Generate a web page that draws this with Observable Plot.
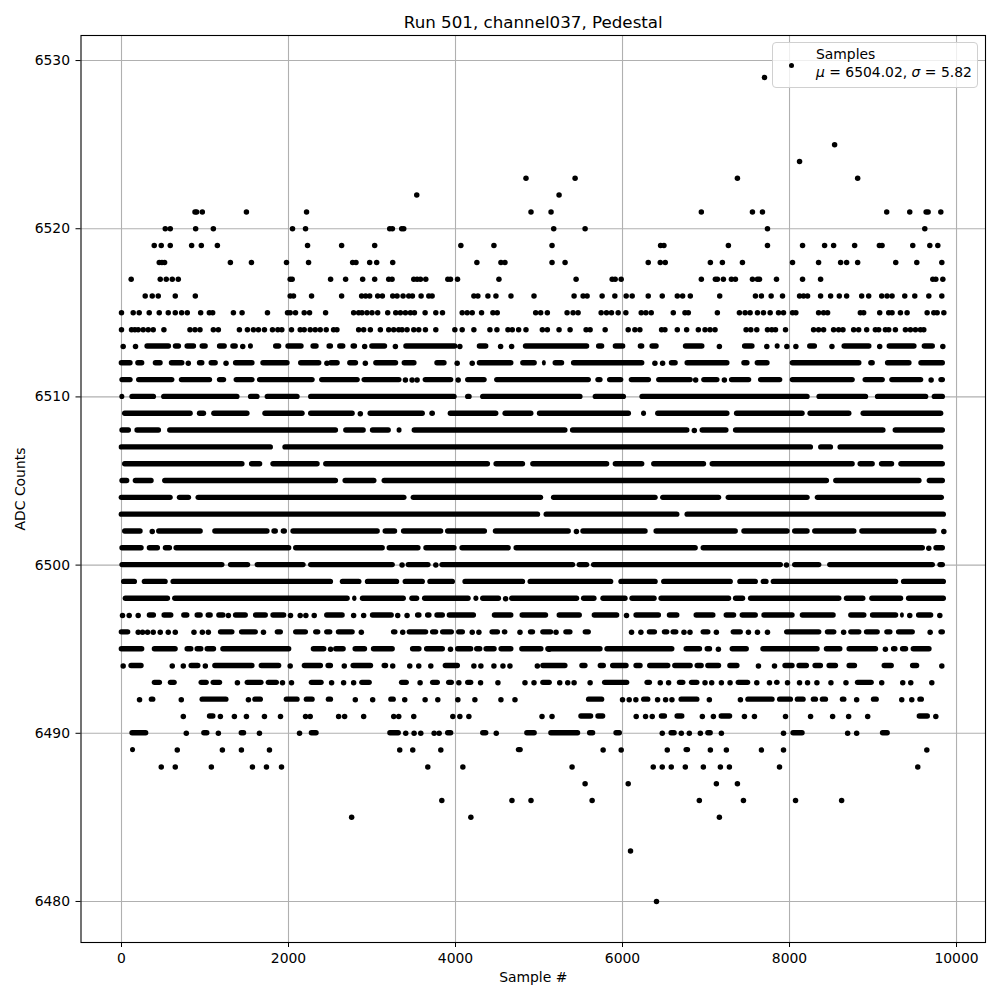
<!DOCTYPE html>
<html><head><meta charset="utf-8">
<script src="https://cdn.jsdelivr.net/npm/d3@7"></script>
<script src="https://cdn.jsdelivr.net/npm/@observablehq/plot@0.6"></script>
<style>
html,body{margin:0;padding:0;background:#fff}
#wrap{position:relative;width:1000px;height:1000px;font-family:"DejaVu Sans"}
#legend{position:absolute;left:772px;top:42px;width:204px;height:44px;background:rgba(255,255,255,.8);border:1px solid #d0d0d0;border-radius:4px;font-size:13.9px;color:#000;line-height:17px}
#legend .t{position:absolute;left:43px;white-space:nowrap}
#legend i{font-style:italic}
#legend .d{position:absolute;left:16px;top:20px;width:5px;height:5px;border-radius:50%;background:#000}
</style></head><body><div id="wrap"></div>
<script>
// Each list: a plain number is one sample read at that x; [a,b] is a stretch of the row
// where the dots merge into a solid bar, read from its left edge to its right edge.
const l6529=[7700];
const l6525=[8540];
const l6524=[8120];
const l6523=[4844,5432,7376,8816];
const l6522=[3536,5240];
const l6521=[880,900,968,1496,2216,4904,5144,6944,7556,7676,9164,9440,9636,9660,9812];
const l6520=[524,584,888,1100,2048,2204,3212,3244,3356,3380,5176,5552,7736,9620];
const l6519=[392,476,584,840,956,1148,2228,2636,3032,4064,4460,5156,6456,6496,7268,7736,8156,8420,8528,8780,9076,9108,9476,9680,9776];
const l6518=[452,484,516,1304,1556,1976,2240,2768,2808,2972,3056,3248,4256,4544,4592,5156,5312,6308,6452,6512,7052,7196,7436,8036,8348,8612,8684,8816,9272,9524,9824];
const l6517=[116,464,536,608,680,2020,2044,2504,2684,2888,3032,3200,3240,3500,3540,3580,3644,3908,3940,4024,4520,5444,5876,5912,5984,6944,7112,7136,7208,7304,7352,7556,7616,7640,7844,8156,8372,9716,9752,9836];
const l6516=[284,368,440,644,884,2020,2060,2276,2636,2876,2924,2972,3068,3124,3248,3300,3372,3440,3484,3588,3680,3720,4220,4268,4388,4484,4664,4940,5420,5528,5576,5756,5908,6044,6116,6308,6476,6656,6720,6812,7164,7592,7664,7780,7916,8120,8168,8216,8372,8492,8596,8684,8864,8948,9104,9168,9228,9380,9500,9668,9824];
const l6515=[0,140,212,332,452,560,644,720,788,948,1052,1092,1340,1444,1748,1988,2020,2084,2188,2252,2444,2780,2840,2880,2940,3000,3068,3188,3284,3340,3400,3460,3508,3636,3764,3844,4080,4140,4200,4312,4448,4500,4960,5020,5100,5336,5408,5468,5744,5808,5868,5948,6040,6224,6280,6344,6608,6748,6788,7136,7400,7468,7528,7616,7688,7768,7868,7928,8036,8076,8348,8408,8456,8848,8888,9080,9188,9228,9328,9408,9648,9728,9768,9848];
const l6514=[0,120,160,200,260,320,380,508,820,880,940,1100,1160,1412,1508,1580,1640,1712,1808,1872,1920,2036,2140,2188,2260,2320,2380,2452,2540,2580,2840,2900,2980,3100,3200,3260,3320,3360,3420,3500,3560,3640,3764,3992,4080,4220,4412,4496,4628,4680,4756,4844,5040,5100,5240,5372,5564,5612,5792,6068,6148,6208,6468,6508,6656,6768,6908,6988,7048,7108,7480,7536,7608,7736,7788,7832,7952,8288,8348,8408,8528,8588,8640,8768,8828,8924,9028,9068,9148,9188,9268,9388,9448,9508,9568,9608];
const l6513=[20,168,[280,600],[620,720],[760,900],[940,1040],[1148,1268],[1308,1400],1452,[1520,1580],[1820,1920],[1968,2188],[2268,2368],[2460,2540],[2588,2688],[2748,2828],2912,[2972,3188],3280,[3380,4028],4052,[4260,4400],4540,4672,[4812,5608],[5688,5788],[5888,6040],[6188,6268],[6328,6440],[6728,6988],7160,[7436,7588],7728,[7828,7888],7968,8076,[8216,8336],8508,[8628,8988],9080,[9168,9528],[9588,9748],9836];
const l6512=[[-28,140],[170,280],[380,500],[572,760],800,[908,1000],[1048,1160],1252,[1340,1600],[1668,2020],[2120,2400],2460,[2480,2620],[2708,2840],2920,[3020,3320],[3360,3540],[3752,3900],4020,4200,[4260,4700],[4780,4980],[5040,5088],[5168,5308],[5388,6268],6388,6480,[6560,6668],[6748,7288],[7428,7528],[7588,7768],[8008,8868],[8948,9028],[9148,9468],[9548,9868]];
const l6511=[[-20,140],[180,640],[692,1092],[1148,1260],[1348,1600],[1628,2320],[2372,2860],[2880,3360],3400,3480,3540,[3612,3980],4032,[4120,4380],[4468,5628],[5680,5768],[5820,6016],[6080,6348],[6408,6848],6876,[6948,7168],7220,[7280,7548],[7628,7920],[8008,8788],[8880,9148],[9200,9608],9696,[9788,9868]];
const l6510=[[-20,40],[100,420],[480,1420],[1520,1660],[1720,2140],[2240,4020],[4120,4200],[4300,5528],[5648,6048],[6208,8248],[8328,8948],[9028,9668],[9708,9868]];
const l6509=[[12,860],[908,1020],[1080,1540],[1692,2200],[2240,2800],2860,[2952,3640],[3692,3760],[3912,4520],[4568,4940],[4980,6108],[6228,6288],[6396,7288],[7340,8188],[8220,8748],[8856,9848]];
const l6508=[[-20,120],[160,480],[552,2600],[2660,2932],[2980,3232],[3300,3360],[3480,5348],[5376,6808],6860,[6928,7276],[7328,9156],[9240,9868]];
const l6507=[[-28,1820],[1932,8288],[8348,8528],[8580,9848]];
const l6506=[[12,1480],[1532,1692],[1788,2380],[2420,4420],[4460,4840],[4900,5848],[5888,6268],[6348,7008],[7048,8788],[8820,9028],[9076,9260],[9308,9868]];
const l6505=[[-20,100],[140,392],[492,2600],[2652,3060],[3120,8480],[8528,9588],[9648,9868]];
const l6504=[[-28,620],[668,840],[892,3420],[3468,5056],[5148,6428],[6456,7188],[7240,8248],[8308,9856]];
const l6503=[[-28,5020],[5060,6688],[6748,9880]];
const l6502=[[12,260],368,[420,980],[1092,1780],[1800,1880],[1912,1988],[2028,3100],[3132,3308],[3352,3860],[3880,4384],[4452,5388],5448,[5500,6308],[6376,7388],[7428,8008],[8036,8248],[8276,8808],[8840,9768],9848];
const l6501=[[-20,272],[308,468],[500,612],[628,2040],[2060,3160],[3180,3588],[3620,4020],[4052,4668],[4700,6908],[6940,9628],9668,[9728,9868]];
const l6500=[[-20,1240],[1280,1548],[1600,2212],[2240,3280],3360,[3408,3708],3764,[3812,5440],[5456,5608],[5628,7928],7964,[8036,8388],[8456,9748],[9776,9868]];
const l6499=[[0,192],[248,560],[592,2540],[2620,2880],[2920,3332],[3372,3640],[3668,4000],[4088,4840],[4868,5896],[5956,6428],[6468,7328],[7380,7628],[7660,7756],[7780,9308],[9340,9880]];
const l6498=[[20,588],[612,2740],[2768,2820],[2860,3412],[3452,3572],[3604,4188],[4220,4280],[4300,4552],4600,[4648,5488],[5508,5696],[5740,6068],[6088,6416],[6436,7308],[7328,7476],[7508,8628],[8656,8916],[8960,9368],[9400,9880]];
const l6497=[12,92,200,[308,420],[484,628],[720,820],[880,980],[1012,1100],[1140,1252],1280,[1340,1520],[1580,1760],[1788,1980],2024,2140,2208,2308,[2432,2680],2780,2900,[2980,3268],3308,3420,[3520,3600],[3640,3720],[3752,3880],[3900,4252],[4440,4700],[4772,5116],[5216,5520],[5636,5968],6048,[6136,6468],[6536,6688],[6856,7120],[7216,7368],[7408,7628],[7668,8068],[8128,8560],[8708,8928],[8968,9308],[9328,9376],9440,[9520,9728],9800];
const l6496=[[-28,112],200,252,312,380,464,560,644,868,968,1040,[1160,1360],[1412,1640],1700,[1840,1940],[2060,2240],[2300,2388],[2432,2532],[2572,2800],2872,[3232,3312],3368,[3420,3680],[3700,3800],[3820,3988],[4012,4120],4200,4280,[4412,4540],[4560,4628],4772,[4872,4960],[5020,5176],5204,[5296,5408],[5528,5628],6108,6220,[6296,6420],[6476,6568],[6580,6676],6736,6808,[6940,7060],7124,[7300,7448],7508,7616,7736,[7940,8388],[8428,8568],8648,[8708,8868],[8896,9088],[9140,9240],[9280,9508],9684,[9788,9868]];
const l6495=[[-28,280],[368,680],[760,868],[880,988],[1000,1140],[1188,2040],[2272,2460],2504,[2540,2692],[2772,2948],[2992,3280],[3460,3600],[3628,3880],3940,[4000,4220],[4228,4328],[4340,4500],[4520,4700],[4768,5060],5120,[5080,5768],[5788,6628],[6736,6960],[6988,7080],7148,[7288,7520],[7656,8368],[8416,8640],[8688,9068],9148,[9220,9300],[9328,9428],[9456,9708]];
const l6494=[20,[88,272],608,740,[808,952],1004,[1092,1600],[1648,1920],2020,[2164,2420],[2448,2540],2668,[2748,3020],[3120,3200],3248,3452,3560,3704,[3852,4060],4220,4304,4460,4568,4652,4980,[5020,5348],[5488,5588],[5708,5808],[5856,6080],[6136,6248],[6300,6580],[6600,6848],[6868,6980],[6996,7188],[7260,7408],7628,7820,[7920,8068],[8088,8240],[8280,8408],[8448,8588],[8688,8816],[9108,9256],[9448,9560],9824];
const l6493=[[368,492],[560,668],[928,1052],[1072,1212],1388,[1480,1708],[1732,1892],1928,2036,[2248,2428],2516,2660,2780,[2852,3004],[3328,3448],3576,[3700,3820],[3892,3988],4040,[4120,4220],4300,4508,4832,4940,[5020,5160],5248,5344,5420,5612,[5760,6088],[6268,6360],6452,6552,[6656,6760],[6800,6928],6988,7068,7184,7288,[7360,7536],7608,7760,[7820,7888],7976,8120,8216,8328,8496,8676,[8788,9016],9104,9356,9452,9704];
const l6492=[216,[332,412],716,[940,1288],1520,[1572,1700],[1948,2140],[2188,2320],[2452,2540],2800,3008,[3200,3292],3392,3636,3788,4028,4232,4544,4712,[5568,5788],6000,6080,6160,[6228,6340],6420,6516,6592,[6676,6928],7040,7412,[7476,7828],[7856,8048],[8068,8200],[8260,8348],[8368,8468],[8608,8688],8804,[8980,9076],9344,9464,[9536,9616]];
const l6491=[740,[1028,1132],1184,1352,1496,1712,1904,2204,2260,2600,2672,2900,3260,3320,3500,3968,4052,4160,5036,5156,[5476,5656],[5680,5800],6164,6276,6356,[6440,6540],[6628,6748],6956,7088,[7156,7320],7460,7580,7952,8252,8516,8708,8936,[9528,9688],9752];
const l6490=[[100,328],776,[960,1060],1160,[1408,1500],1652,2132,[2248,2368],[3188,3352],3404,3504,3584,3744,3804,[3880,3980],[4300,4400],4488,[4828,4980],[5116,5500],[5580,5680],[5896,6000],6476,[6556,6656],6704,6800,6932,[6996,7088],7184,7928,[8016,8188],8696,8804,[9088,9208]];
const l6489=[[108,168],668,1208,1436,1772,3332,3488,3824,[4728,4812],5768,5984,6536,[6736,6816],7052,7244,7664,7928,9644];
const l6488=[476,644,1076,1568,1736,1916,3668,4088,5396,6368,6476,6584,6752,6968,7172,7280,7880,9536];
const l6487=[5552,6068,7124,7376];
const l6486=[3836,4676,4904,5636,6920,7448,8072,8624];
const l6485=[2756,4184,7160];
const l6483=[6096];
const l6480=[6407];

const rows=[[6529,l6529],[6525,l6525],[6524,l6524],[6523,l6523],[6522,l6522],[6521,l6521],[6520,l6520],[6519,l6519],[6518,l6518],[6517,l6517],[6516,l6516],[6515,l6515],[6514,l6514],[6513,l6513],[6512,l6512],[6511,l6511],[6510,l6510],[6509,l6509],[6508,l6508],[6507,l6507],[6506,l6506],[6505,l6505],[6504,l6504],[6503,l6503],[6502,l6502],[6501,l6501],[6500,l6500],[6499,l6499],[6498,l6498],[6497,l6497],[6496,l6496],[6495,l6495],[6494,l6494],[6493,l6493],[6492,l6492],[6491,l6491],[6490,l6490],[6489,l6489],[6488,l6488],[6487,l6487],[6486,l6486],[6485,l6485],[6483,l6483],[6480,l6480]];
const xTicks=[0,2000,4000,6000,8000,10000];
const yTicks=[6480,6490,6500,6510,6520,6530];

const samples=rows.flatMap(([v,l])=>l.filter(e=>typeof e==="number").map(x=>({x,v})));
const stretches=rows.flatMap(([v,l])=>l.filter(Array.isArray).map(([a,b])=>({a,b,v})));
const ink="#000", grid="#b0b0b0";
const chart=Plot.plot({
  width:1000,height:1000,marginLeft:80.5,marginRight:15,marginTop:35,marginBottom:58,
  style:{fontFamily:"DejaVu Sans",fontSize:"13.9px",background:"#fff",color:"#000",overflow:"visible"},
  x:{domain:[-485,10347]},
  y:{domain:[6477.56,6531.49]},
  marks:[
    Plot.gridX(xTicks,{stroke:grid,strokeOpacity:1,strokeWidth:1.1}),
    Plot.gridY(yTicks,{stroke:grid,strokeOpacity:1,strokeWidth:1.1}),
    Plot.dot(samples,{x:"x",y:"v",r:2.75,fill:ink,stroke:null}),
    Plot.rect(stretches,{x1:"a",x2:"b",y1:d=>d.v-0.16,y2:d=>d.v+0.16,fill:ink,rx:2.7}),
    Plot.frame({stroke:ink,strokeWidth:1.1}),
    Plot.axisX({ticks:xTicks,tickFormat:d=>String(d),tickSize:5,tickPadding:6,label:"Sample #",labelAnchor:"center",labelArrow:"none",labelOffset:39,fontSize:13.9}),
    Plot.axisY({ticks:yTicks,tickFormat:d=>String(d),tickSize:5,tickPadding:6,label:"ADC Counts",labelAnchor:"center",labelArrow:"none",labelOffset:66,fontSize:13.9}),
    Plot.text(["Run 501, channel037, Pedestal"],{frameAnchor:"top",dy:-8,fontSize:16.7,fill:ink,lineAnchor:"bottom"})
  ]
});
const wrap=document.getElementById("wrap");
wrap.appendChild(chart);
const lg=document.createElement("div");
lg.id="legend";
lg.innerHTML='<span class="d"></span><span class="t" style="top:3px">Samples</span><span class="t" style="top:21px"><i>μ</i> = 6504.02, <i>σ</i> = 5.82</span>';
wrap.appendChild(lg);
</script></body></html>
